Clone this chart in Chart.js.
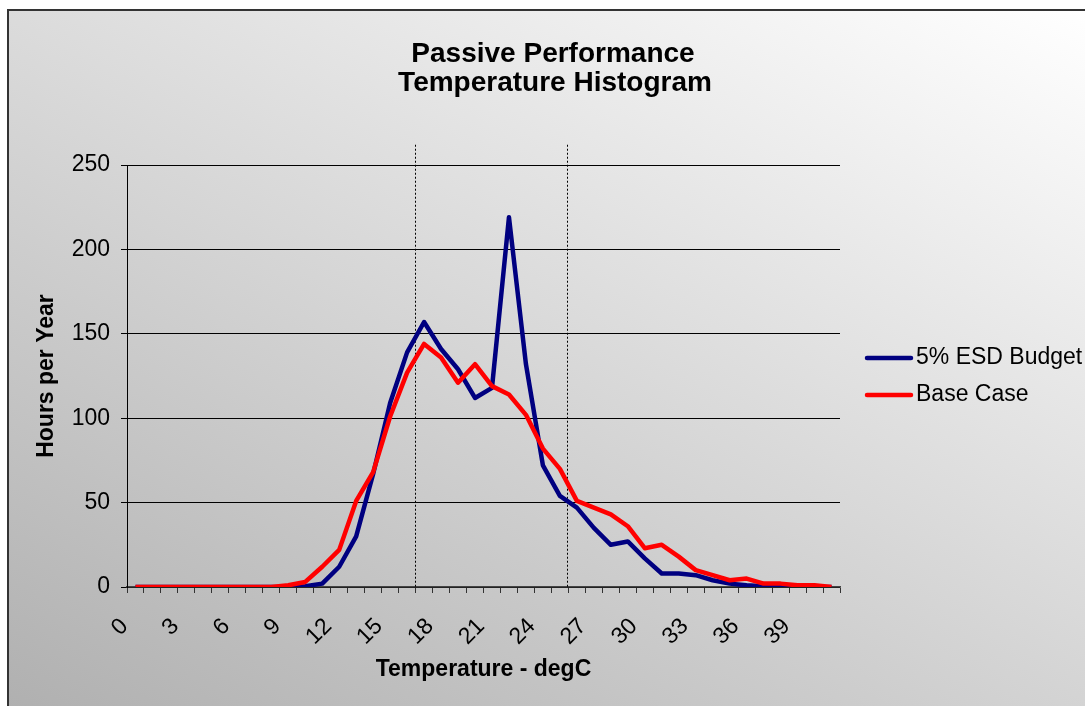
<!DOCTYPE html>
<html>
<head>
<meta charset="utf-8">
<script src="https://cdn.jsdelivr.net/npm/chart.js@4.4.0/dist/chart.umd.min.js"></script>
<style>
  html, body { margin: 0; padding: 0; background: #fff; overflow: hidden; }
  canvas { display: block; }
</style>
</head>
<body>
<canvas id="myChart" width="1085" height="706"></canvas>
<script>
// temperature bins (degC)
const temps = ['0','1','2','3','4','5','6','7','8','9','10','11','12','13','14','15','16','17','18','19','20',
  '21','22','23','24','25','26','27','28','29','30','31','32','33','34','35','36','37','38','39','40','41'];

// hours per year in each bin
const esdBudget = [0,0,0,0,0,0,0,0,0,0,0.5,2,12,30,67,109,139,157,141,129,112,
  118,219,132,72,54,47,35,25,27,17,8,8,7,4,2,1,0.5,0,0,0,0];
const baseCase = [0,0,0,0,0,0,0,0,0,1,3,12,22,51,68,101,127,144,136,121,132,
  119,114,102,82,70,51,47,43,36,23,25,18,10,7,4,5,2,2,1,1,0];

const yTicks = [0, 50, 100, 150, 200, 250];
// comfort band markers (bin boundaries)
const bandLines = [16.5, 25.5];

const FONT = '"Liberation Sans", Arial, sans-serif';
Chart.defaults.font.family = FONT;
Chart.defaults.color = '#000';

const frame = {
  id: 'frame',
  beforeDraw(chart) {
    const c = chart.ctx;
    c.save();
    c.fillStyle = '#fff';
    c.fillRect(0, 0, chart.width, chart.height);
    const g = c.createLinearGradient(284, 853, 807, -137);
    g.addColorStop(0, '#b0b0b0');
    g.addColorStop(1, '#ffffff');
    c.fillStyle = g;
    c.fillRect(8, 10, chart.width, chart.height);
    c.strokeStyle = '#333';
    c.lineWidth = 2;
    c.strokeRect(8, 10, chart.width + 20, chart.height + 20);
    c.restore();
  },
  beforeDatasetsDraw(chart) {
    const c = chart.ctx;
    const x = chart.scales.x, y = chart.scales.y;
    c.save();
    c.strokeStyle = '#000';
    c.lineWidth = 1;
    c.setLineDash([2, 2]);
    bandLines.forEach(v => {
      const px = Math.round(x.getPixelForValue(v)) - 0.5;
      c.beginPath();
      c.moveTo(px, y.getPixelForValue(262));
      c.lineTo(px, y.getPixelForValue(0));
      c.stroke();
    });
    c.restore();
  },
  afterDraw(chart) {
    const c = chart.ctx;
    const area = chart.chartArea;
    c.save();
    c.fillStyle = '#000';
    c.textAlign = 'center';
    c.textBaseline = 'alphabetic';
    c.font = 'bold 28px ' + FONT;
    c.fillText('Passive Performance', 553, 62);
    c.fillText('Temperature Histogram', 555, 91);

    c.textBaseline = 'middle';
    c.font = 'bold 23px ' + FONT;
    c.fillText('Temperature - degC', (area.left + area.right) / 2, 670);
    c.translate(47, 376);
    c.rotate(-Math.PI / 2);
    c.fillText('Hours per Year', 0, 0);
    c.restore();

    // legend
    c.save();
    c.font = '23px ' + FONT;
    c.textBaseline = 'middle';
    c.textAlign = 'left';
    c.lineWidth = 4.5;
    c.lineCap = 'round';
    const rows = [[chart.data.datasets[0], 358], [chart.data.datasets[1], 395]];
    rows.forEach(([ds, ly]) => {
      c.strokeStyle = ds.borderColor;
      c.beginPath();
      c.moveTo(867, ly);
      c.lineTo(911, ly);
      c.stroke();
      c.fillStyle = '#000';
      c.fillText(ds.label, 916, ly);
    });
    c.restore();
  }
};

new Chart(document.getElementById('myChart').getContext('2d'), {
  type: 'line',
  data: {
    labels: temps,
    datasets: [
      {
        label: '5% ESD Budget',
        data: esdBudget,
        borderColor: '#000080',
        borderWidth: 4.5,
        borderJoinStyle: 'round',
        pointRadius: 0,
        tension: 0,
        order: 1
      },
      {
        label: 'Base Case',
        data: baseCase,
        borderColor: '#ff0000',
        borderWidth: 4.5,
        borderJoinStyle: 'round',
        pointRadius: 0,
        tension: 0,
        order: 0
      }
    ]
  },
  plugins: [frame],
  options: {
    responsive: false,
    animation: false,
    devicePixelRatio: 1,
    layout: { padding: { top: 165, right: 245, bottom: 0, left: 0 } },
    plugins: {
      legend: { display: false },
      title: { display: false },
      tooltip: { enabled: false }
    },
    scales: {
      x: {
        type: 'category',
        offset: true,
        afterFit(s) { s.height = 119; },
        grid: { drawOnChartArea: false, offset: true, tickLength: 6, color: '#333' },
        border: { color: '#444', width: 1.5 },
        ticks: {
          autoSkip: false,
          minRotation: 45,
          maxRotation: 45,
          padding: 20,
          labelOffset: -11,
          font: { size: 23 },
          color: '#000',
          callback: (v, i) => (i % 3 === 0 ? temps[i] : '')
        }
      },
      y: {
        min: 0,
        max: 250,
        afterFit(s) { s.width = 127; },
        afterBuildTicks(s) { s.ticks = yTicks.map(v => ({ value: v })); },
        grid: { color: '#000', tickLength: 6 },
        border: { color: '#000', width: 1 },
        ticks: { padding: 11, font: { size: 23 }, color: '#000' }
      }
    }
  }
});
</script>
</body>
</html>
